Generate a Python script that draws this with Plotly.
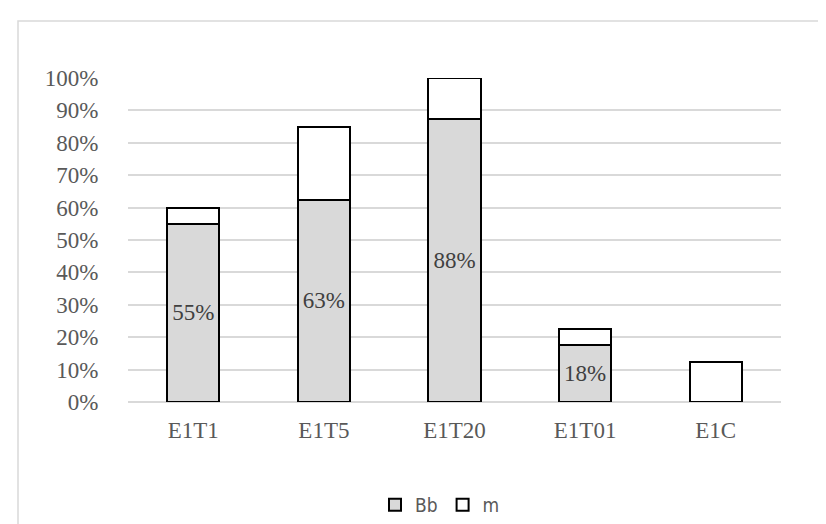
import plotly.graph_objects as go

categories = ["E1T1", "E1T5", "E1T20", "E1T01", "E1C"]
bb_values = [55, 62.5, 87.5, 17.5, 0]
m_values = [5, 22.5, 12.5, 5, 12.5]
y_ticks = [0, 10, 20, 30, 40, 50, 60, 70, 80, 90, 100]
y_tick_labels = [f"{t}%" for t in y_ticks]

bb_text = [f"{int(v + 0.5)}%" if v > 0 else "" for v in bb_values]

W, H = 826, 524
L, R, T, B = 120, 53, 70, 130
pw, ph = W - L - R, H - T - B


def px_x(p):
    return (p - L) / pw


def px_y(p):
    return (H - B - p) / ph


serif = "Liberation Serif, Times New Roman, serif"

fig = go.Figure()
fig.add_trace(go.Bar(
    name="Bb", x=categories, y=bb_values,
    marker=dict(color="#d9d9d9", line=dict(color="black", width=2)),
    text=bb_text, textposition="inside", insidetextanchor="middle",
    textfont=dict(family=serif, size=23, color="#404040"),
    insidetextfont=dict(family=serif, size=23, color="#404040"),
    textangle=0, constraintext="none",
))
fig.add_trace(go.Bar(
    name="m", x=categories, y=m_values,
    marker=dict(color="white", line=dict(color="black", width=2)),
))

fig.update_layout(
    width=W, height=H,
    margin=dict(l=L, r=R, t=T, b=B, autoexpand=False),
    barmode="stack", bargap=0.6,
    paper_bgcolor="white", plot_bgcolor="white",
    font=dict(family=serif, size=23, color="#595959"),
    showlegend=True,
    legend=dict(
        orientation="h", x=px_x(432), y=px_y(497),
        xanchor="center", yanchor="middle",
        font=dict(family="DejaVu Sans Condensed", size=19, color="#595959"),
        traceorder="normal", itemwidth=30,
    ),
    shapes=[dict(
        type="rect", xref="paper", yref="paper",
        x0=px_x(10), x1=px_x(840), y0=px_y(540), y1=px_y(13),
        line=dict(color="#d9d9d9", width=1.5), layer="below",
    )],
)
fig.update_xaxes(
    showgrid=False, showline=False, zeroline=False,
    ticks="outside", ticklen=7, tickcolor="rgba(0,0,0,0)",
    tickfont=dict(family=serif, size=23, color="#595959"),
)
fig.update_yaxes(
    range=[0, 100], tickvals=y_ticks, ticktext=y_tick_labels,
    showgrid=True, gridcolor="#d9d9d9", gridwidth=1.5,
    zeroline=True, zerolinecolor="#d9d9d9", zerolinewidth=1.5,
    showline=False,
    ticks="outside", ticklen=24, tickcolor="rgba(0,0,0,0)",
    tickfont=dict(family=serif, size=23, color="#595959"),
)

fig.write_html("out.html")
